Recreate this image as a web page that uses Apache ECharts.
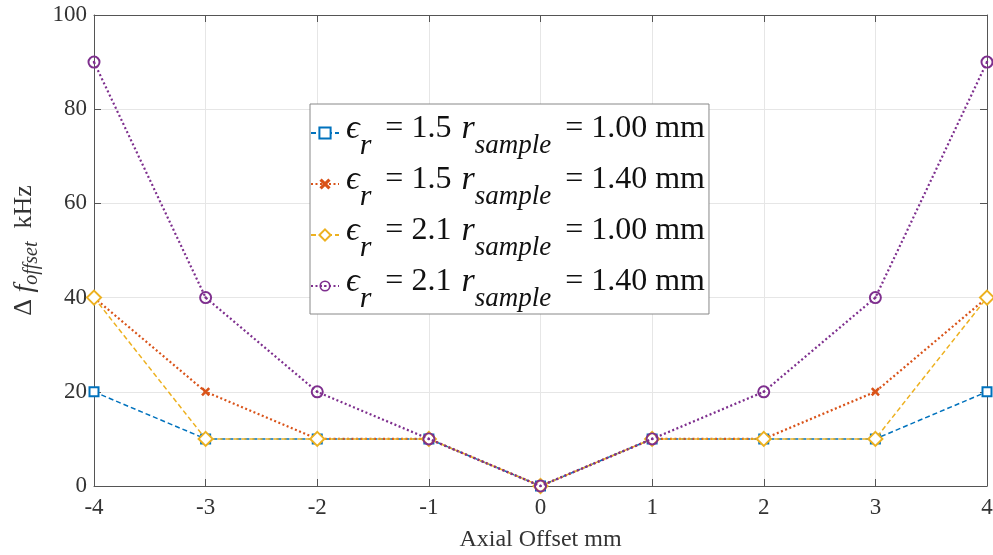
<!DOCTYPE html>
<html><head><meta charset="utf-8">
<script src="https://cdn.jsdelivr.net/npm/echarts@6/dist/echarts.min.js"></script>
<style>html,body{margin:0;padding:0;background:#fff}#c{width:993px;height:555px}</style>
</head><body><div id="c"></div>
<script>
const xValues = [-4, -3, -2, -1, 0, 1, 2, 3, 4];
const s1 = [20, 10, 10, 10, 0, 10, 10, 10, 20];
const s2 = [40, 20, 10, 10, 0, 10, 10, 20, 40];
const s3 = [40, 10, 10, 10, 0, 10, 10, 10, 40];
const s4 = [90, 40, 20, 10, 0, 10, 20, 40, 90];
const seriesNames = ['s1', 's2', 's3', 's4'];
const epsVals = ['1.5', '1.5', '2.1', '2.1'];
const rVals = ['1.00', '1.40', '1.00', '1.40'];
const colors = ['#0072BD', '#D95319', '#EDB120', '#7E2F8E'];
const FONT = '"Liberation Serif", "DejaVu Serif", serif';

const ringPath = 'path://M0,-10A10,10,0,1,1,0,10A10,10,0,1,1,0,-10ZM0,-7A7,7,0,1,0,0,7A7,7,0,1,0,0,-7ZM0,-2A2,2,0,1,1,0,2A2,2,0,1,1,0,-2Z';
const crossPath = 'path://M0,2L2,0L5,3L8,0L10,2L7,5L10,8L8,10L5,7L2,10L0,8L3,5Z';

function pairs(arr) { return xValues.map((x, i) => [x, arr[i]]); }

const chart = echarts.init(document.getElementById('c'));
const dataSets = [s1, s2, s3, s4];
const lineTypes = [[5, 3], [2, 2.5], [5, 3], [2, 2.5]];
const lineWidths = [1.5, 2.2, 1.5, 2.2];
const symbols = ['emptyRect', crossPath, 'emptyDiamond', ringPath];
const symSizes = [9, 9, 14, 13];

const AX = '#555';
const boxAxis = {
  type: 'value', axisLabel: { show: false }, splitLine: { show: false },
  axisLine: { show: true, onZero: false, lineStyle: { color: AX } },
  axisTick: { show: true, inside: true, length: 7, lineStyle: { color: AX } }
};

chart.setOption({
  animation: false,
  backgroundColor: '#fff',
  grid: { left: 94, right: 6, top: 15, bottom: 69, outerBoundsMode: 'none', containLabel: false },
  legend: {
    orient: 'vertical', left: 310, top: 104,
    backgroundColor: '#fff', borderColor: '#888', borderWidth: 1,
    padding: [8, 4, 0, 0], itemGap: 2, itemWidth: 28, itemHeight: 14,
    data: seriesNames,
    formatter: function (name) {
      const i = seriesNames.indexOf(name);
      return '{eps1|ϵ}{sub|r}{t| = ' + epsVals[i] + '}{sp| }{eps|r}{sub2|sample}{t| = ' + rVals[i] + ' mm}';
    },
    textStyle: {
      fontFamily: FONT, fontSize: 32, color: '#111',
      rich: {
        eps1: { fontFamily: FONT, fontSize: 34, fontStyle: 'italic', color: '#111', padding: [0, 0, 8, 2] },
        eps: { fontFamily: FONT, fontSize: 34, fontStyle: 'italic', color: '#111', padding: [0, 0, 8, 0] },
        sub: { fontFamily: FONT, fontSize: 30, fontStyle: 'italic', color: '#111', padding: [26, 6, 0, 0] },
        sub2: { fontFamily: FONT, fontSize: 27, fontStyle: 'italic', color: '#111', padding: [26, 6, 0, 0] },
        t: { fontFamily: FONT, fontSize: 32, color: '#111', padding: [0, 0, 8, 0] },
        sp: { fontFamily: FONT, fontSize: 32, width: 10 }
      }
    }
  },
  xAxis: [{
    type: 'value', min: -4, max: 4, interval: 1,
    name: 'Axial Offset mm', nameLocation: 'middle', nameGap: 42,
    nameTextStyle: { fontFamily: FONT, fontSize: 24, color: '#333' },
    axisLine: { onZero: false, lineStyle: { color: AX } },
    axisTick: { inside: true, length: 7, lineStyle: { color: AX } },
    axisLabel: { fontFamily: FONT, fontSize: 23, color: '#333', margin: 10 },
    splitLine: { show: true, lineStyle: { color: '#e6e6e6' } }
  }, Object.assign({ position: 'top', min: -4, max: 4, interval: 1 }, boxAxis)],
  yAxis: [{
    type: 'value', min: 0, max: 100, interval: 20,
    name: '{d|Δ }{f|f}{s|offset}{d|  kHz}', nameLocation: 'middle', nameGap: 44, nameRotate: 90,
    nameTextStyle: {
      fontFamily: FONT, fontSize: 26, color: '#333', align: 'center',
      rich: {
        d: { fontFamily: FONT, fontSize: 26, color: '#333' },
        f: { fontFamily: FONT, fontSize: 28, fontStyle: 'italic', color: '#333' },
        s: { fontFamily: FONT, fontSize: 20, fontStyle: 'italic', color: '#333', padding: [14, 0, 0, 0] }
      }
    },
    axisLine: { show: true, onZero: false, lineStyle: { color: AX } },
    axisTick: { show: true, inside: true, length: 7, lineStyle: { color: AX } },
    axisLabel: { fontFamily: FONT, fontSize: 23, color: '#333', margin: 7 },
    splitLine: { show: true, lineStyle: { color: '#e6e6e6' } }
  }, Object.assign({ position: 'right', min: 0, max: 100, interval: 20 }, boxAxis)],
  series: dataSets.map((d, i) => ({
    name: seriesNames[i], type: 'line', data: pairs(d), xAxisIndex: 0, yAxisIndex: 0,
    symbol: symbols[i], symbolSize: symSizes[i], showSymbol: true,
    itemStyle: { color: colors[i], borderWidth: i === 0 || i === 2 ? 1.5 : 0 },
    lineStyle: { color: colors[i], type: lineTypes[i], width: lineWidths[i] },
    z: 2 + i
  }))
});
</script></body></html>
